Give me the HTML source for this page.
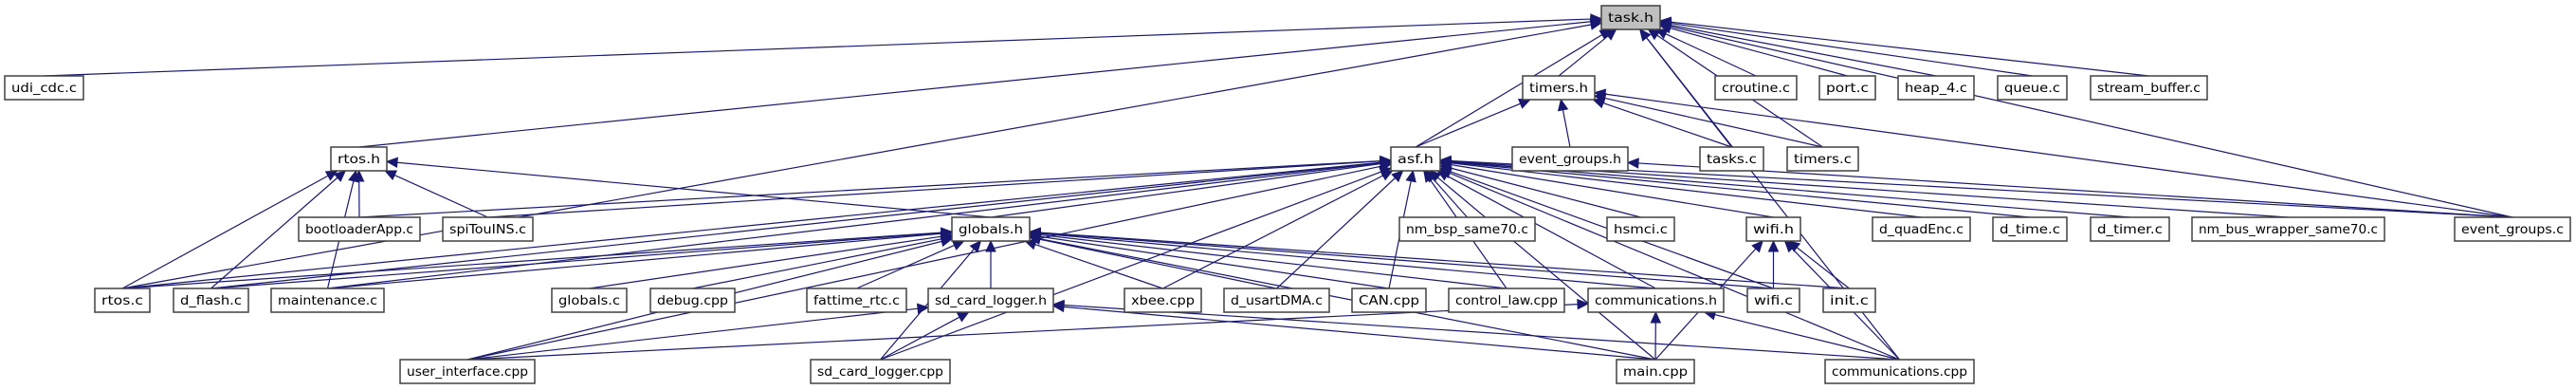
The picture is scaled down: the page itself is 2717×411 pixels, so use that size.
<!DOCTYPE html>
<html><head><meta charset="utf-8"><style>
html,body{margin:0;padding:0;background:#fff;width:2717px;height:411px;overflow:hidden}
svg text{font-family:"DejaVu Sans","Liberation Sans",sans-serif;font-size:13px;fill:#000}
</style></head><body>
<svg id="g" width="2717" height="411" xmlns="http://www.w3.org/2000/svg">
<g id="edges" fill="none" stroke="#191970" stroke-width="1.2"></g>
<g id="arrows" fill="#191970" stroke="#191970" stroke-width="1"></g>
<g id="nodes"></g>
</svg>
<script>
var R=[6,80,155,229,304,379],H=25;
var N={
"task.h":[1689,1751,0],
"udi_cdc.c":[5,88,1],"timers.h":[1606,1682,1],"croutine.c":[1809,1895,1],"port.c":[1919,1978,1],"heap_4.c":[2002,2082,1],"queue.c":[2107,2180,1],"stream_buffer.c":[2205,2328,1],
"rtos.h":[349,408,2],"asf.h":[1467,1519,2],"event_groups.h":[1595,1717,2],"tasks.c":[1793,1860,2],"timers.c":[1885,1960,2],
"bootloaderApp.c":[315,443,3],"spiTouINS.c":[467,562,3],"globals.h":[1004,1086,3],"nm_bsp_same70.c":[1476,1619,3],"hsmci.c":[1695,1766,3],"wifi.h":[1842,1899,3],"d_quadEnc.c":[1975,2078,3],"d_time.c":[2102,2180,3],"d_timer.c":[2205,2288,3],"nm_bus_wrapper_same70.c":[2312,2515,3],"event_groups.c":[2589,2711,3],
"rtos.c":[100,158,4],"d_flash.c":[183,262,4],"maintenance.c":[286,405,4],"globals.c":[582,661,4],"debug.cpp":[686,775,4],"fattime_rtc.c":[851,956,4],"sd_card_logger.h":[979,1111,4],"xbee.cpp":[1186,1267,4],"d_usartDMA.c":[1291,1402,4],"CAN.cpp":[1426,1504,4],"control_law.cpp":[1528,1650,4],"communications.h":[1675,1818,4],"wifi.c":[1843,1898,4],"init.c":[1923,1978,4],
"user_interface.cpp":[422,564,5],"sd_card_logger.cpp":[855,1002,5],"main.cpp":[1705,1787,5],"communications.cpp":[1925,2082,5]
};
var E={
"task.h":["udi_cdc.c","rtos.h","rtos.c","asf.h","timers.h","croutine.c","port.c","heap_4.c","queue.c","stream_buffer.c","tasks.c","timers.c","event_groups.c","communications.cpp"],
"timers.h":["asf.h","event_groups.h","tasks.c","timers.c","event_groups.c"],
"event_groups.h":["event_groups.c"],
"rtos.h":["rtos.c","d_flash.c","maintenance.c","bootloaderApp.c","spiTouINS.c","globals.h"],
"asf.h":["bootloaderApp.c","spiTouINS.c","rtos.c","d_flash.c","maintenance.c","user_interface.cpp","sd_card_logger.cpp","globals.h","xbee.cpp","d_usartDMA.c","CAN.cpp","control_law.cpp","nm_bsp_same70.c","hsmci.c","communications.h","wifi.h","d_quadEnc.c","d_time.c","d_timer.c","nm_bus_wrapper_same70.c","event_groups.c","wifi.c","main.cpp","communications.cpp"],
"globals.h":["rtos.c","d_flash.c","maintenance.c","globals.c","debug.cpp","fattime_rtc.c","sd_card_logger.h","xbee.cpp","d_usartDMA.c","CAN.cpp","control_law.cpp","communications.h","wifi.c","init.c","user_interface.cpp","sd_card_logger.cpp","main.cpp"],
"sd_card_logger.h":["user_interface.cpp","sd_card_logger.cpp","main.cpp","communications.cpp"],
"communications.h":["user_interface.cpp","main.cpp","communications.cpp"],
"wifi.h":["wifi.c","init.c","main.cpp","communications.cpp"]
};
var NS="http://www.w3.org/2000/svg";
function el(t,a,p){var e=document.createElementNS(NS,t);for(var k in a)e.setAttribute(k,a[k]);p.appendChild(e);return e;}
var ge=document.getElementById("edges"),ga=document.getElementById("arrows"),gn=document.getElementById("nodes");
function box(n){var b=N[n];return {l:b[0],r:b[1],t:R[b[2]],b:R[b[2]]+H,cx:(b[0]+b[1])/2,cy:R[b[2]]+H/2};}
for(var p in E){E[p].forEach(function(c){
 var P=box(p),C=box(c);
 var sx=C.cx,sy=C.t;
 var dx=sx-P.cx,dy=sy-P.cy;
 var hw=(P.r-P.l)/2,hh=H/2;
 var t=Math.min(dx?hw/Math.abs(dx):1e9,dy?hh/Math.abs(dy):1e9);
 var ex=P.cx+dx*t,ey=P.cy+dy*t;
 var ax=ex-sx,ay=ey-sy,L=Math.sqrt(ax*ax+ay*ay)||1;ax/=L;ay/=L;
 var bx=ex-ax*11,by=ey-ay*11;
 el("path",{d:"M"+sx+","+sy+" L"+bx+","+by},ge);
 var px=-ay,py=ax;
 el("polygon",{points:ex+","+ey+" "+(bx+px*5)+","+(by+py*5)+" "+(bx-px*5)+","+(by-py*5)},ga);
});}
for(var n in N){var B=box(n);
 el("rect",{x:B.l,y:B.t,width:B.r-B.l,height:H,fill:n=="task.h"?"#bfbfbf":"#fff",stroke:"#404040","stroke-width":1.5},gn);
 var t=el("text",{x:B.cx,y:B.t+17,"text-anchor":"middle",textLength:(B.r-B.l-14),lengthAdjust:"spacingAndGlyphs"},gn);t.textContent=n;}
</script>
</body></html>
